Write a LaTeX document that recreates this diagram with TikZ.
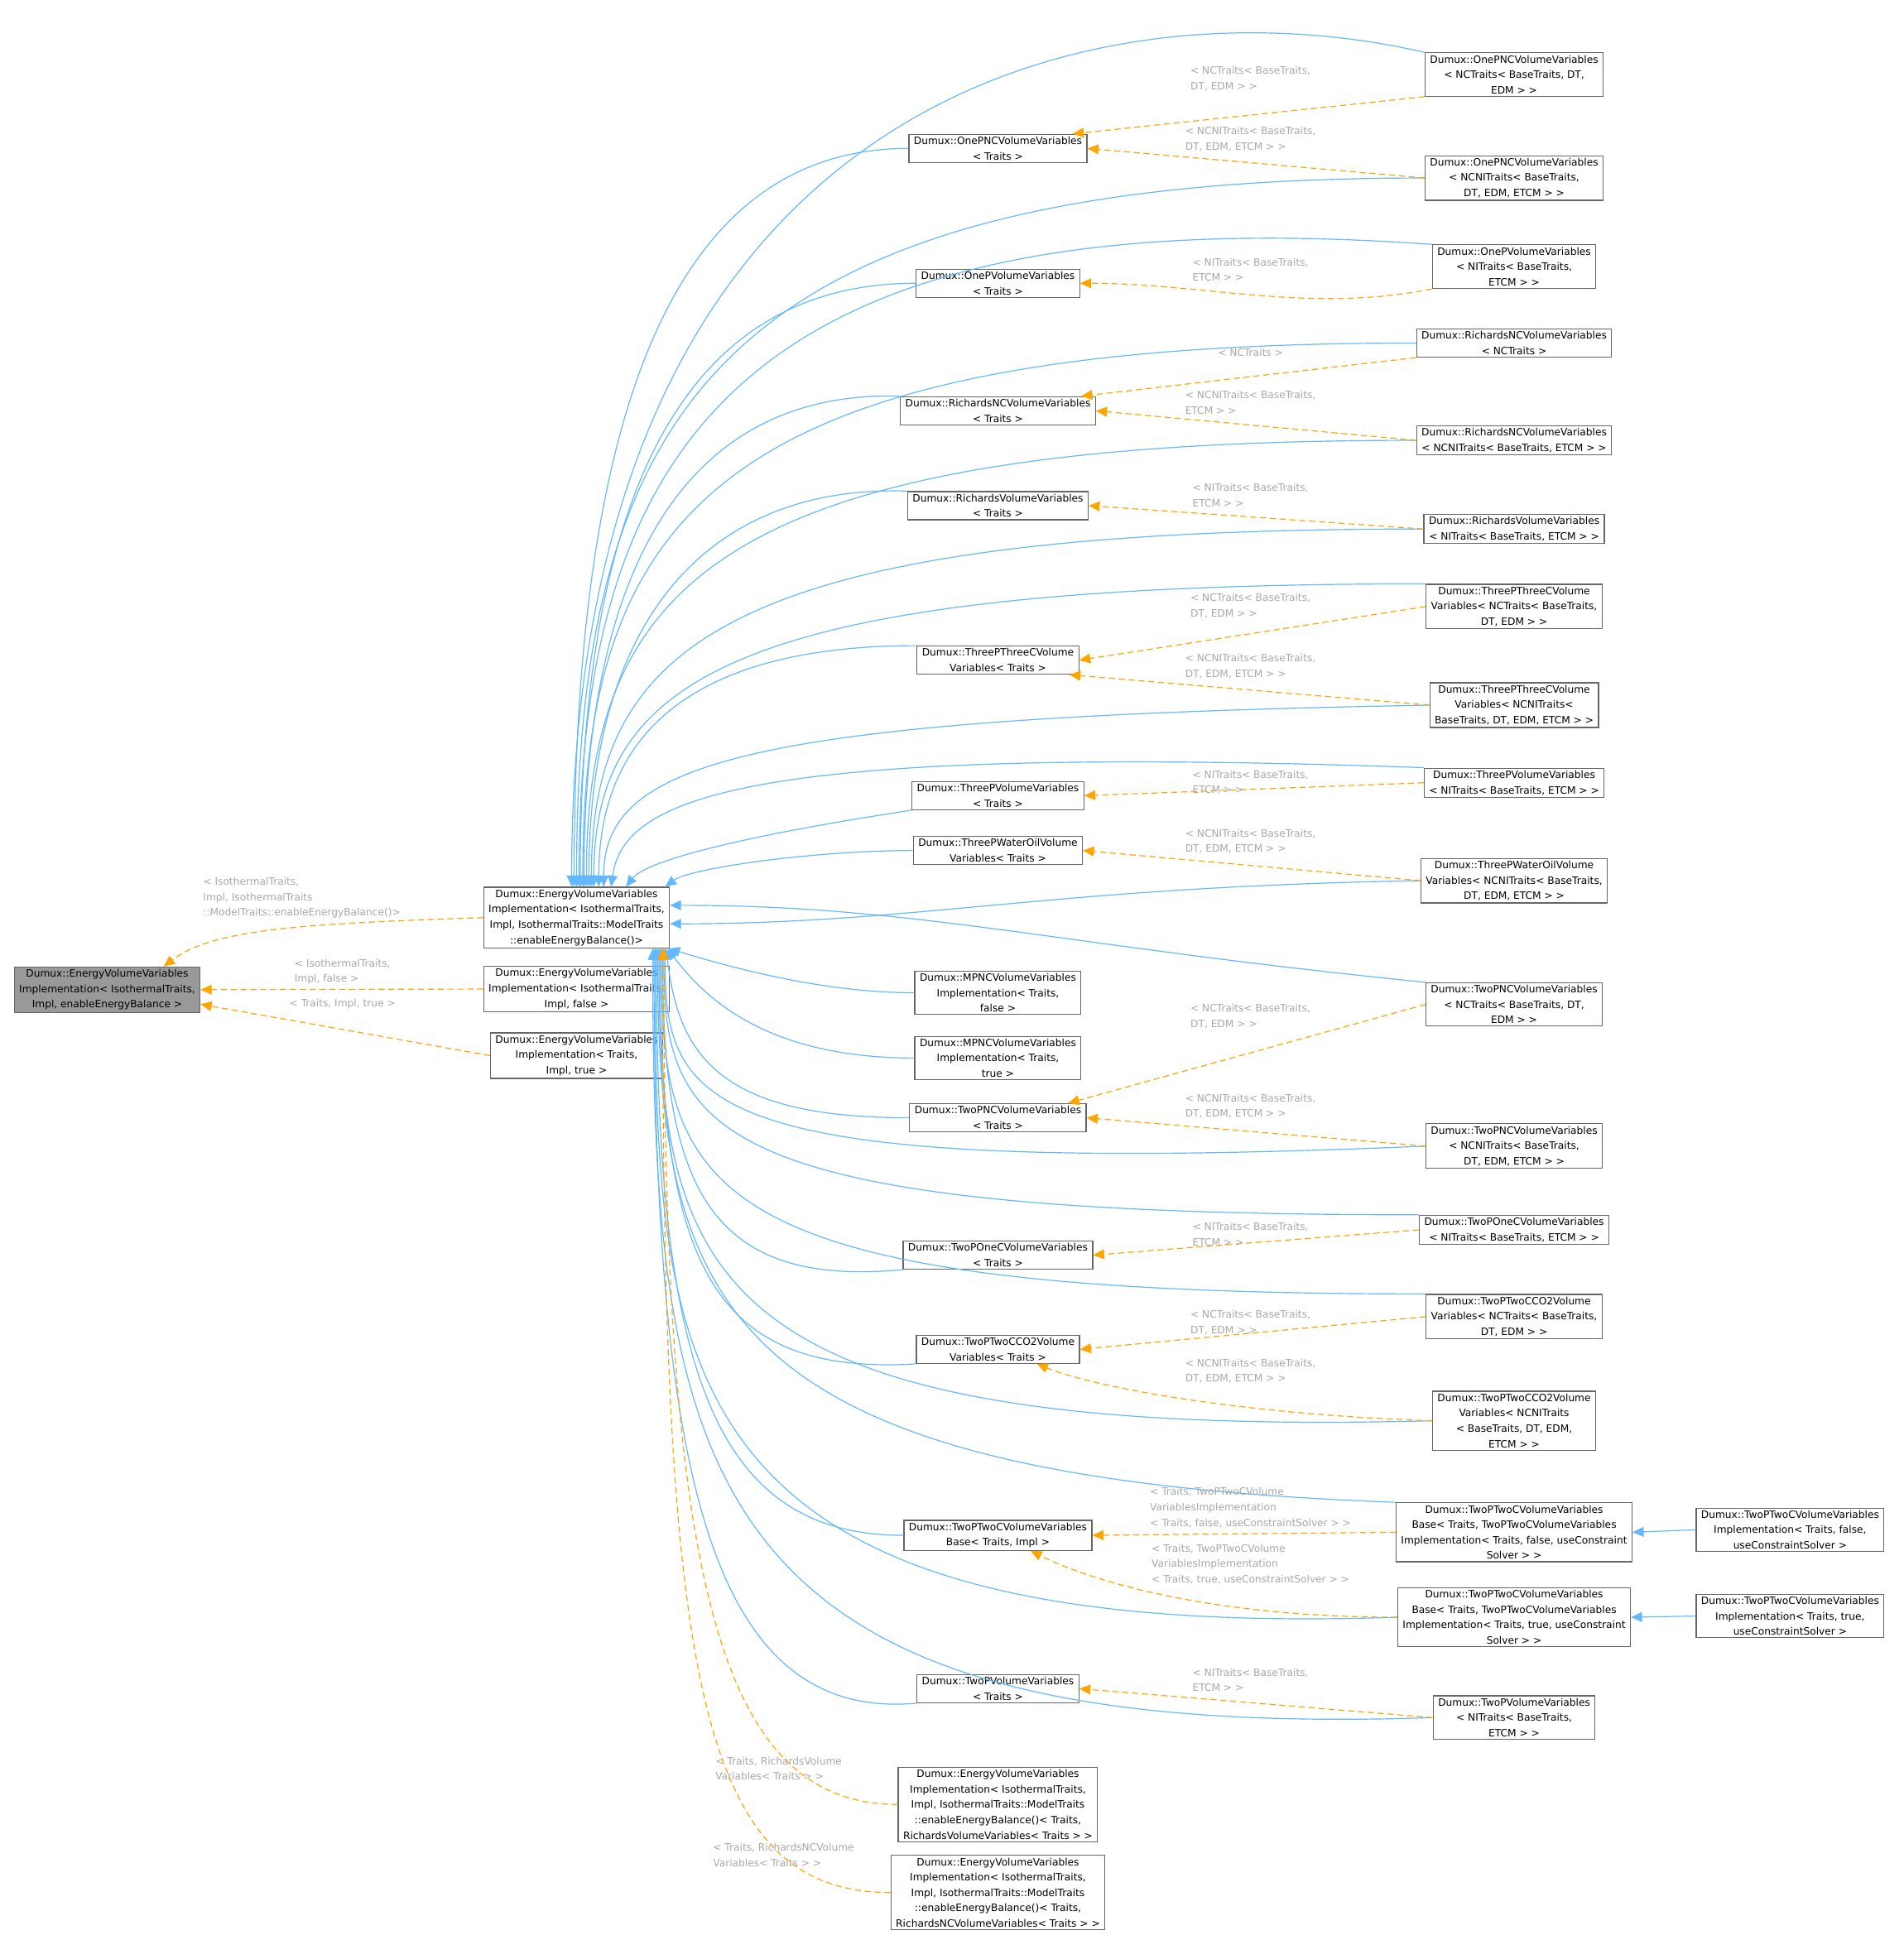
\documentclass[tikz,border=0pt]{standalone}
\usepackage{fontspec}
\setmainfont{DejaVu Sans}
\usetikzlibrary{arrows.meta}
\definecolor{eblue}{HTML}{63B8FF}
\definecolor{eorange}{HTML}{FFA500}
\definecolor{lblgray}{HTML}{A8A8A8}
\definecolor{bord}{HTML}{666666}
\begin{document}
\begin{tikzpicture}[x=1pt,y=-1pt,
  cls/.style={draw=bord,line width=0.8pt,fill=white,align=center,font=\fontsize{8.2}{12.5}\selectfont,inner xsep=4pt,inner ysep=2pt},
  inh/.style={draw=eblue,line width=0.8pt,-{Triangle[length=9pt,width=8pt]}},
  tmpl/.style={draw=eorange,line width=0.8pt,dashed,dash pattern=on 5pt off 3pt,-{Triangle[length=9pt,width=8pt]}},
  lbl/.style={text=lblgray,align=left,font=\fontsize{8.2}{12.5}\selectfont}]
\useasboundingbox[fill=white] (0,0) rectangle (1545,1571);
% left column
\node[cls,fill={rgb,255:red,153;green,153;blue,153}] (root) at (87,803.5) {Dumux::EnergyVolumeVariables\\Implementation< IsothermalTraits,\\Impl, enableEnergyBalance >};
\node[cls] (E1) at (468,745) {Dumux::EnergyVolumeVariables\\Implementation< IsothermalTraits,\\ Impl, IsothermalTraits::ModelTraits\\::enableEnergyBalance()>};
\node[cls] (E2) at (468,803) {Dumux::EnergyVolumeVariables\\Implementation< IsothermalTraits,\\ Impl, false >};
\node[cls] (E3) at (468,857) {Dumux::EnergyVolumeVariables\\Implementation< Traits,\\ Impl, true >};
% middle column
\node[cls] (m1) at (810,120.5) {Dumux::OnePNCVolumeVariables\\< Traits >};
\node[cls] (m2) at (810,230) {Dumux::OnePVolumeVariables\\< Traits >};
\node[cls] (m3) at (810,333.5) {Dumux::RichardsNCVolumeVariables\\< Traits >};
\node[cls] (m4) at (810,410.5) {Dumux::RichardsVolumeVariables\\< Traits >};
\node[cls] (m5) at (810,536) {Dumux::ThreePThreeCVolume\\Variables< Traits >};
\node[cls] (m6) at (810,646) {Dumux::ThreePVolumeVariables\\< Traits >};
\node[cls] (m7) at (810,690.5) {Dumux::ThreePWaterOilVolume\\Variables< Traits >};
\node[cls] (m8) at (810,806) {Dumux::MPNCVolumeVariables\\Implementation< Traits,\\ false >};
\node[cls] (m9) at (810,859) {Dumux::MPNCVolumeVariables\\Implementation< Traits,\\ true >};
\node[cls] (m10) at (810,907.5) {Dumux::TwoPNCVolumeVariables\\< Traits >};
\node[cls] (m11) at (810,1019) {Dumux::TwoPOneCVolumeVariables\\< Traits >};
\node[cls] (m12) at (810,1095.5) {Dumux::TwoPTwoCCO2Volume\\Variables< Traits >};
\node[cls] (m13) at (810,1246.5) {Dumux::TwoPTwoCVolumeVariables\\Base< Traits, Impl >};
\node[cls] (m14) at (810,1371) {Dumux::TwoPVolumeVariables\\< Traits >};
\node[cls] (m15) at (810,1465) {Dumux::EnergyVolumeVariables\\Implementation< IsothermalTraits,\\ Impl, IsothermalTraits::ModelTraits\\::enableEnergyBalance()< Traits,\\ RichardsVolumeVariables< Traits > >};
\node[cls] (m16) at (810,1536.5) {Dumux::EnergyVolumeVariables\\Implementation< IsothermalTraits,\\ Impl, IsothermalTraits::ModelTraits\\::enableEnergyBalance()< Traits,\\ RichardsNCVolumeVariables< Traits > >};
% right column
\node[cls] (r1) at (1229,60.5) {Dumux::OnePNCVolumeVariables\\< NCTraits< BaseTraits, DT,\\ EDM > >};
\node[cls] (r2) at (1229,144.5) {Dumux::OnePNCVolumeVariables\\< NCNITraits< BaseTraits,\\ DT, EDM, ETCM > >};
\node[cls] (r3) at (1229,216.5) {Dumux::OnePVolumeVariables\\< NITraits< BaseTraits,\\ ETCM > >};
\node[cls] (r4) at (1229,278.5) {Dumux::RichardsNCVolumeVariables\\< NCTraits >};
\node[cls] (r5) at (1229,357.5) {Dumux::RichardsNCVolumeVariables\\< NCNITraits< BaseTraits, ETCM > >};
\node[cls] (r6) at (1229,429.5) {Dumux::RichardsVolumeVariables\\< NITraits< BaseTraits, ETCM > >};
\node[cls] (r7) at (1229,492.5) {Dumux::ThreePThreeCVolume\\Variables< NCTraits< BaseTraits,\\ DT, EDM > >};
\node[cls] (r8) at (1229,572.5) {Dumux::ThreePThreeCVolume\\Variables< NCNITraits<\\ BaseTraits, DT, EDM, ETCM > >};
\node[cls] (r9) at (1229,635.5) {Dumux::ThreePVolumeVariables\\< NITraits< BaseTraits, ETCM > >};
\node[cls] (r10) at (1229,715) {Dumux::ThreePWaterOilVolume\\Variables< NCNITraits< BaseTraits,\\ DT, EDM, ETCM > >};
\node[cls] (r11) at (1229,815.5) {Dumux::TwoPNCVolumeVariables\\< NCTraits< BaseTraits, DT,\\ EDM > >};
\node[cls] (r12) at (1229,930.5) {Dumux::TwoPNCVolumeVariables\\< NCNITraits< BaseTraits,\\ DT, EDM, ETCM > >};
\node[cls] (r13) at (1229,998.5) {Dumux::TwoPOneCVolumeVariables\\< NITraits< BaseTraits, ETCM > >};
\node[cls] (r14) at (1229,1069) {Dumux::TwoPTwoCCO2Volume\\Variables< NCTraits< BaseTraits,\\ DT, EDM > >};
\node[cls] (r15) at (1229,1153.5) {Dumux::TwoPTwoCCO2Volume\\Variables< NCNITraits\\< BaseTraits, DT, EDM,\\ ETCM > >};
\node[cls] (r16) at (1229,1244) {Dumux::TwoPTwoCVolumeVariables\\Base< Traits, TwoPTwoCVolumeVariables\\Implementation< Traits, false, useConstraint\\Solver > >};
\node[cls] (r17) at (1229,1313) {Dumux::TwoPTwoCVolumeVariables\\Base< Traits, TwoPTwoCVolumeVariables\\Implementation< Traits, true, useConstraint\\Solver > >};
\node[cls] (r18) at (1229,1394.5) {Dumux::TwoPVolumeVariables\\< NITraits< BaseTraits,\\ ETCM > >};
\node[cls] (f1) at (1453,1242) {Dumux::TwoPTwoCVolumeVariables\\Implementation< Traits, false,\\ useConstraintSolver >};
\node[cls] (f2) at (1453,1312) {Dumux::TwoPTwoCVolumeVariables\\Implementation< Traits, true,\\ useConstraintSolver >};
% blue inheritance edges, above E1
\draw[inh] (r1.north west) .. controls +(-260,-60) and +(0,-650) .. ([xshift=-4]E1.north);
\draw[inh] (m1.west) .. controls +(-170,0) and +(0,-430) .. ([xshift=-2]E1.north);
\draw[inh] (r2.west) .. controls +(-560,0) and +(0,-400) .. ([xshift=0]E1.north);
\draw[inh] (r3.north west) .. controls +(-560,-40) and +(0,-360) .. ([xshift=2]E1.north);
\draw[inh] (m2.west) .. controls +(-170,0) and +(0,-350) .. ([xshift=3]E1.north);
\draw[inh] (r4.west) .. controls +(-560,0) and +(0,-310) .. ([xshift=5]E1.north);
\draw[inh] (m3.north west) .. controls +(-160,-5) and +(0,-280) .. ([xshift=6]E1.north);
\draw[inh] (r5.west) .. controls +(-560,0) and +(0,-250) .. ([xshift=8]E1.north);
\draw[inh] (m4.north west) .. controls +(-160,-5) and +(0,-220) .. ([xshift=10]E1.north);
\draw[inh] (r6.west) .. controls +(-560,0) and +(0,-200) .. ([xshift=12]E1.north);
\draw[inh] (r7.north west) .. controls +(-560,0) and +(0,-170) .. ([xshift=14]E1.north);
\draw[inh] (m5.north west) .. controls +(-160,0) and +(0,-140) .. ([xshift=18]E1.north);
\draw[inh] (r8.west) .. controls +(-560,10) and +(0,-100) .. ([xshift=22]E1.north);
\draw[inh] (r9.north west) .. controls +(-560,-20) and +(10,-70) .. ([xshift=28]E1.north);
\draw[inh] (m6.south west) .. controls +(-100,15) and +(20,-25) .. ([xshift=40]E1.north);
\draw[inh] (m7.west) .. controls +(-80,0) and +(20,-15) .. ([xshift=72]E1.north);
% right side of E1
\draw[inh] (r10.west) .. controls +(-300,5) and +(200,0) .. ([yshift=-5]E1.east);
\draw[inh] (r11.north west) .. controls +(-300,-30) and +(200,0) .. ([yshift=10]E1.east);
% below E1
\draw[inh] (m8.west) .. controls +(-80,0) and +(40,12) .. ([xshift=-1]E1.south east);
\draw[inh] (m9.west) .. controls +(-120,0) and +(30,40) .. ([xshift=-2]E1.south east);
\draw[inh] (m10.west) .. controls +(-150,0) and +(10,90) .. ([xshift=-3]E1.south east);
\draw[inh] (r12.west) .. controls +(-590,25) and +(0,130) .. ([xshift=-4]E1.south east);
\draw[inh] (r13.north west) .. controls +(-580,0) and +(0,150) .. ([xshift=-5]E1.south east);
\draw[inh] (m11.south west) .. controls +(-160,15) and +(0,190) .. ([xshift=-6]E1.south east);
\draw[inh] (r14.north west) .. controls +(-590,0) and +(0,200) .. ([xshift=-7]E1.south east);
\draw[inh] (m12.south west) .. controls +(-170,10) and +(0,250) .. ([xshift=-8]E1.south east);
\draw[inh] (r15.west) .. controls +(-590,15) and +(0,270) .. ([xshift=-9]E1.south east);
\draw[inh] (r16.north west) .. controls +(-540,-20) and +(0,300) .. ([xshift=-10]E1.south east);
\draw[inh] (m13.west) .. controls +(-160,0) and +(0,330) .. ([xshift=-11]E1.south east);
\draw[inh] (r17.west) .. controls +(-590,20) and +(0,350) .. ([xshift=-12]E1.south east);
\draw[inh] (m14.south west) .. controls +(-170,15) and +(0,420) .. ([xshift=-13]E1.south east);
\draw[inh] (r18.west) .. controls +(-590,20) and +(0,440) .. ([xshift=-14]E1.south east);
\draw[inh] (f1.west) -- (r16.east);
\draw[inh] (f2.west) -- (r17.east);
% orange template edges
\draw[tmpl] (r1.south west) -- ([xshift=-12]m1.north east);
\draw[tmpl] (r2.west) -- (m1.east);
\draw[tmpl] (r3.south west) .. controls +(-100,20) and +(100,0) .. (m2.east);
\draw[tmpl] (r4.south west) -- ([xshift=-12]m3.north east);
\draw[tmpl] (r5.west) -- (m3.east);
\draw[tmpl] (r6.west) -- (m4.east);
\draw[tmpl] (r7.west) -- (m5.east);
\draw[tmpl] (r8.west) -- ([xshift=-8]m5.south east);
\draw[tmpl] (r9.west) -- (m6.east);
\draw[tmpl] (r10.west) -- (m7.east);
\draw[tmpl] (r11.west) -- ([xshift=-15]m10.north east);
\draw[tmpl] (r12.west) -- (m10.east);
\draw[tmpl] (r13.west) -- (m11.east);
\draw[tmpl] (r14.west) -- (m12.east);
\draw[tmpl] (r15.west) .. controls +(-150,-5) and +(50,20) .. ([xshift=-35]m12.south east);
\draw[tmpl] (r16.west) -- (m13.east);
\draw[tmpl] (r17.west) .. controls +(-150,0) and +(50,25) .. ([xshift=-50]m13.south east);
\draw[tmpl] (r18.west) -- (m14.east);
\draw[tmpl] (m15.west) .. controls +(-150,0) and +(0,500) .. ([xshift=-5]E1.south east);
\draw[tmpl] (m16.west) .. controls +(-160,0) and +(0,580) .. ([xshift=-6]E1.south east);
\draw[tmpl] (E1.west) .. controls +(-150,5) and +(40,-30) .. ([xshift=-30]root.north east);
\draw[tmpl] (E2.west) -- (root.east);
\draw[tmpl] (E3.west) -- ([yshift=7]root.south east);
% labels
\node[lbl] (l1) at (1015,64) {< NCTraits< BaseTraits,\\ DT, EDM > >};
\node[lbl] (l2) at (1015,113) {< NCNITraits< BaseTraits,\\ DT, EDM, ETCM > >};
\node[lbl] (l3) at (1015,219) {< NITraits< BaseTraits,\\ ETCM > >};
\node[lbl] (l4) at (1015,286) {< NCTraits >};
\node[lbl] (l5) at (1015,327) {< NCNITraits< BaseTraits,\\ ETCM > >};
\node[lbl] (l6) at (1015,402) {< NITraits< BaseTraits,\\ ETCM > >};
\node[lbl] (l7) at (1015,492) {< NCTraits< BaseTraits,\\ DT, EDM > >};
\node[lbl] (l8) at (1015,541) {< NCNITraits< BaseTraits,\\ DT, EDM, ETCM > >};
\node[lbl] (l9) at (1015,635) {< NITraits< BaseTraits,\\ ETCM > >};
\node[lbl] (l10) at (1015,683) {< NCNITraits< BaseTraits,\\ DT, EDM, ETCM > >};
\node[lbl] (l11) at (1015,825) {< NCTraits< BaseTraits,\\ DT, EDM > >};
\node[lbl] (l12) at (1015,898) {< NCNITraits< BaseTraits,\\ DT, EDM, ETCM > >};
\node[lbl] (l13) at (1015,1002) {< NITraits< BaseTraits,\\ ETCM > >};
\node[lbl] (l14) at (1015,1074) {< NCTraits< BaseTraits,\\ DT, EDM > >};
\node[lbl] (l15) at (1015,1113) {< NCNITraits< BaseTraits,\\ DT, EDM, ETCM > >};
\node[lbl] (l16) at (1015,1224) {< Traits, TwoPTwoCVolume\\ VariablesImplementation\\ < Traits, false, useConstraintSolver > >};
\node[lbl] (l17) at (1015,1270) {< Traits, TwoPTwoCVolume\\ VariablesImplementation\\ < Traits, true, useConstraintSolver > >};
\node[lbl] (l18) at (1015,1364) {< NITraits< BaseTraits,\\ ETCM > >};
\node[lbl] (l19) at (245,729) {< IsothermalTraits,\\ Impl, IsothermalTraits\\ ::ModelTraits::enableEnergyBalance()>};
\node[lbl] (l20) at (278,789) {< IsothermalTraits,\\ Impl, false >};
\node[lbl] (l21) at (278,815) {< Traits, Impl, true >};
\node[lbl] (l22) at (632,1436) {< Traits, RichardsVolume\\ Variables< Traits > >};
\node[lbl] (l23) at (636,1506) {< Traits, RichardsNCVolume\\ Variables< Traits > >};
\end{tikzpicture}
\end{document}
